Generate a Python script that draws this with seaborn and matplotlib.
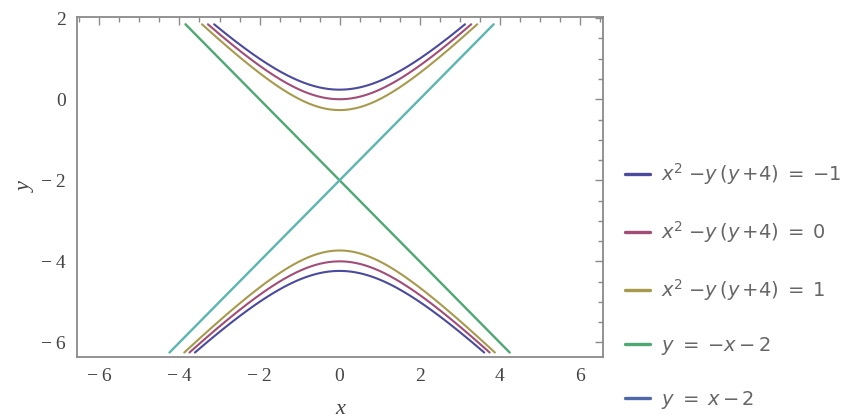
import numpy as np
import pandas as pd
import matplotlib
matplotlib.use("Agg")
import matplotlib.pyplot as plt
from matplotlib.ticker import MultipleLocator
from matplotlib.lines import Line2D
import seaborn as sns

# ---- data (from the legend equations) ----
levels = [-1, 0, 1]                 # x^2 - y(y+4) = c
level_labels = [r"$x^2\;{-}y\,(y\,{+}4)\;{=}\;{-}1$",
                r"$x^2\;{-}y\,(y\,{+}4)\;{=}\;0$",
                r"$x^2\;{-}y\,(y\,{+}4)\;{=}\;1$"]
line_slopes = [-1, 1]               # y = m*x - 2
line_intercepts = [-2, -2]
line_labels = [r"$y\;{=}\;{-}x\,{-}\,2$", r"$y\;{=}\;x\,{-}\,2$"]
y_range = [-6.25, 1.85]
x_ticks = [-6, -4, -2, 0, 2, 4, 6]
y_ticks = [-6, -4, -2, 0, 2]

level_colors = ["#4A4A9E", "#A24C78", "#A89A4C"]
line_colors = ["#4DA872", "#5BB6B0"]
line_legend_colors = ["#4DA872", "#4E68AA"]

sns.set_style("white")
plt.rcParams["mathtext.fontset"] = "dejavusans"

fig = plt.figure(figsize=(8.51, 4.19), dpi=100)
ax = fig.add_axes([0.0905, 0.148, 0.618, 0.8115])

for c, col in zip(levels, level_colors):
    ymin, ymax = y_range
    # upper branch: y = -2 + sqrt(x^2 + 4 - c)
    xmax_up = np.sqrt((ymax + 2) ** 2 - (4 - c))
    xs = np.linspace(-xmax_up, xmax_up, 400)
    df = pd.DataFrame({"x": xs, "y": -2 + np.sqrt(xs ** 2 + 4 - c)})
    sns.lineplot(data=df, x="x", y="y", ax=ax, color=col, lw=1.5,
                 estimator=None, sort=False)
    xmax_lo = np.sqrt((ymin + 2) ** 2 - (4 - c))
    xs = np.linspace(-xmax_lo, xmax_lo, 400)
    df = pd.DataFrame({"x": xs, "y": -2 - np.sqrt(xs ** 2 + 4 - c)})
    sns.lineplot(data=df, x="x", y="y", ax=ax, color=col, lw=1.5,
                 estimator=None, sort=False)

for m, b, col in zip(line_slopes, line_intercepts, line_colors):
    yy = np.array(y_range)
    xx = (yy - b) / m
    df = pd.DataFrame({"x": xx, "y": yy})
    sns.lineplot(data=df, x="x", y="y", ax=ax, color=col, lw=1.7,
                 estimator=None, sort=False)

ax.set_xlim(-6.56, 6.58)
ax.set_ylim(-6.36, 2.03)

frame_col = "#8a8a8a"
for s in ax.spines.values():
    s.set_color(frame_col)
    s.set_linewidth(1.3)

ax.set_xticks(x_ticks)
ax.set_yticks(y_ticks)
ax.set_xticklabels(["\u2212" + "\u2009" + str(abs(t)) if t < 0 else str(t) for t in x_ticks])
ax.set_yticklabels(["\u2212" + "\u2009" + str(abs(t)) if t < 0 else str(t) for t in y_ticks])
ax.xaxis.set_minor_locator(MultipleLocator(0.5))
ax.yaxis.set_minor_locator(MultipleLocator(0.5))
ax.tick_params(which="both", direction="in", top=True, right=True, color=frame_col,
               width=1.0)
ax.tick_params(which="major", length=6, labelsize=14, labelcolor="#444444", pad=8)
ax.tick_params(which="minor", length=3.5)
for lab in ax.get_xticklabels() + ax.get_yticklabels():
    lab.set_fontfamily("Liberation Serif")

ax.set_xlabel("x", fontfamily="Liberation Serif", fontstyle="italic", fontsize=16,
              color="#444444", labelpad=11)
ax.set_ylabel("y", fontfamily="Liberation Serif", fontstyle="italic", fontsize=16,
              color="#444444", rotation=90, labelpad=4)

handles = [Line2D([], [], color=c, lw=2.4) for c in level_colors + line_legend_colors]
labels = level_labels + line_labels
leg = fig.legend(handles, labels, loc="upper left", bbox_to_anchor=(0.725, 0.635),
                 frameon=False, fontsize=14, labelspacing=1.65, handlelength=1.3,
                 handletextpad=0.55, borderaxespad=0)
for t in leg.get_texts():
    t.set_color("#666666")

fig.savefig("out.png", dpi=100)
